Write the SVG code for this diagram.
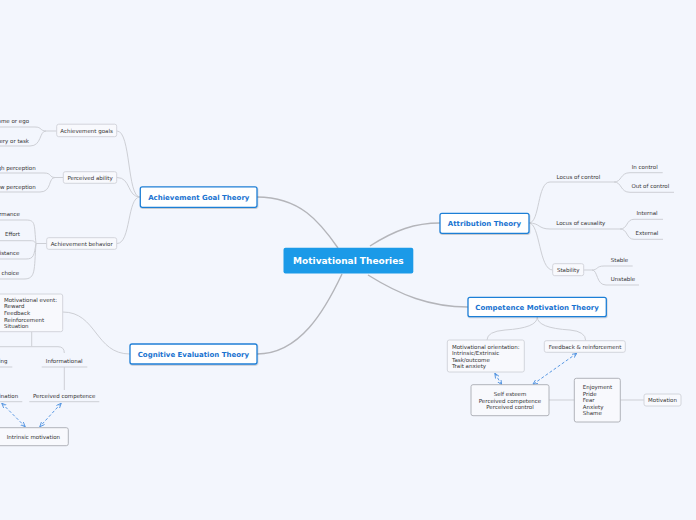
<svg xmlns="http://www.w3.org/2000/svg" width="696" height="520" viewBox="0 0 696 520">
<defs>
<style>
.bg{fill:#f3f6fd}
.main{fill:#ffffff;stroke:#1f7fd6;stroke-width:1.3}
.root{fill:#1b9ae8}
.sub{fill:#f8f9fd;stroke:#cfd1d8;stroke-width:0.9}
.sub2{fill:#f8f9fd;stroke:#a9abb2;stroke-width:0.9}
.c1{fill:none;stroke:#b4b5ba;stroke-width:1.4}
.c2{fill:none;stroke:#cdcfd5;stroke-width:1}
.dash{fill:none;stroke:#4a8fe0;stroke-width:0.9;stroke-dasharray:3 2;marker-start:url(#ah);marker-end:url(#ah)}
text{font-family:"DejaVu Sans","Liberation Sans",sans-serif}
.tr{font-size:9px;font-weight:bold;fill:#ffffff;text-anchor:middle}
.tm{font-size:7px;font-weight:bold;fill:#1a73d0;text-anchor:middle}
.t{font-size:5.5px;fill:#333333}
.tc{font-size:5.5px;fill:#333333;text-anchor:middle}
.te{font-size:5.5px;fill:#333333;text-anchor:end}
</style>
<marker id="ah" viewBox="0 0 6 6" refX="5.5" refY="3" markerWidth="5" markerHeight="5" markerUnits="userSpaceOnUse" orient="auto-start-reverse">
<path d="M0,0.5 L6,3 L0,5.5" fill="none" stroke="#4a8fe0" stroke-width="1"/>
</marker>
<filter id="sh" x="-10%" y="-20%" width="120%" height="150%">
<feDropShadow dx="0.5" dy="1" stdDeviation="0.6" flood-color="#000" flood-opacity="0.18"/>
</filter>
</defs>
<rect class="bg" x="0" y="0" width="696" height="520"/>

<g id="connectors">
<path class="c1" d="M257,197 C300,197 320,222 338,248"/>
<path class="c1" d="M342,274 C325,310 300,354 257,354"/>
<path class="c1" d="M370,246 C395,230 415,223 440,223"/>
<path class="c1" d="M368,275 C400,295 430,307 468,307"/>

<path class="c2" d="M140,197 C127,197 131,131 117,131"/>
<path class="c2" d="M140,197 C127,197 131,177.5 117,177.5"/>
<path class="c2" d="M140,197 C127,197 131,243.5 117,243.5"/>

<path class="c2" d="M56.7,131 L46,131 C40,131 42,127 35,127 L-30,127"/>
<path class="c2" d="M46,131 C39,131 42,146 30,146 L-30,146"/>
<path class="c2" d="M63.3,177.5 L55,177.5 C49,177.5 52,173 44,173 L-30,173"/>
<path class="c2" d="M55,177.5 C48,177.5 52,192 40,192 L-30,192"/>
<path class="c2" d="M46.7,243.5 L36,243.5"/>
<path class="c2" d="M36,243.5 C34,225 36,220 26,220 L-30,220"/>
<path class="c2" d="M36,243.5 C34,241 34,240.7 30,240.7 L-30,240.7"/>
<path class="c2" d="M36,243.5 C34,255 34,259 26,259 L-30,259"/>
<path class="c2" d="M36,243.5 C34,270 36,279 24,279 L-30,279"/>

<path class="c2" d="M130,354 C95,354 97,312 62.7,312"/>
<path class="c2" d="M31.7,331.7 L31.7,346.7"/>
<path class="c2" d="M31.7,346.7 L58,346.7 Q64.3,346.7 64.3,353"/>
<path class="c2" d="M31.7,346.7 L-10,346.7"/>
<path class="c2" d="M41.7,367 L87.3,367"/>
<path class="c2" d="M64.3,367 L64.3,390"/>
<path class="c2" d="M29.3,401.7 L99.3,401.7"/>
<path class="c2" d="M-30,367 L12.3,367"/>
<path class="c2" d="M-30,401.7 L22.3,401.7"/>

<path class="c2" d="M529,223 C540,223 537,182 550,182 L614,182"/>
<path class="c2" d="M529,223 C540,223 538,229 550,229 L620,229"/>
<path class="c2" d="M529,223 C540,223 539,270 552.7,270"/>
<path class="c2" d="M614,182 C622,182 620,172.7 630,172.7 L662.7,172.7"/>
<path class="c2" d="M614,182 C622,182 620,192.3 630,192.3 L674,192.3"/>
<path class="c2" d="M620,229 C628,229 626,219.3 634,219.3 L663,219.3"/>
<path class="c2" d="M620,229 C628,229 626,239.3 634,239.3 L663,239.3"/>
<path class="c2" d="M583.7,270 L592,270 C598,270 596,266 604,266 L632.7,266"/>
<path class="c2" d="M592,270 C598,270 596,285 606,285 L639,285"/>

<path class="c2" d="M537.3,317 Q537.3,328 505,330 Q487,331.5 487,340"/>
<path class="c2" d="M537.3,317 Q537.3,328 570,330 Q585.7,331.5 585.7,340.7"/>
<path class="c2" d="M549,400 L574.3,400"/>
<path class="c2" d="M620.3,400 L644,400"/>

<path class="dash" d="M61,403.5 L40,426.5"/>
<path class="dash" d="M2,403.5 L25,426.5"/>
<path class="dash" d="M495,373.5 L501.5,384.5"/>
<path class="dash" d="M576.5,353.5 L533,384.3"/>
</g>

<g id="root">
<rect class="root" x="283.5" y="247.8" width="129.8" height="25.8" rx="2"/>
<text class="tr" x="348.4" y="264.3">Motivational Theories</text>
</g>

<g id="achievement-goal-theory">
<rect class="main" x="140.3" y="186.8" width="116.7" height="20.5" rx="2" filter="url(#sh)"/>
<text class="tm" x="198.8" y="199.8">Achievement Goal Theory</text>
</g>
<g id="achievement-goals">
<rect class="sub" x="56.7" y="124.2" width="60" height="12.5" rx="2"/>
<text class="tc" x="86.6" y="133">Achievement goals</text>
</g>
<g id="outcome-ego"><text class="te" x="29" y="123">Outcome or ego</text></g>
<g id="mastery-task"><text class="te" x="29" y="143">Mastery or task</text></g>
<g id="perceived-ability">
<rect class="sub" x="63.3" y="171.7" width="53.4" height="11.6" rx="2"/>
<text class="tc" x="90.1" y="180.3">Perceived ability</text>
</g>
<g id="high-perception"><text class="te" x="35.7" y="169.7">High perception</text></g>
<g id="low-perception"><text class="te" x="35.7" y="188.7">Low perception</text></g>
<g id="achievement-behavior">
<rect class="sub" x="46.7" y="237.7" width="70" height="11.6" rx="2"/>
<text class="tc" x="81.7" y="245.7">Achievement behavior</text>
</g>
<g id="performance"><text class="te" x="20" y="216">Performance</text></g>
<g id="effort"><text class="te" x="20" y="236">Effort</text></g>
<g id="persistance"><text class="te" x="19.5" y="254.7">Persistance</text></g>
<g id="task-choice"><text class="te" x="19.2" y="274.7">Task choice</text></g>

<g id="cognitive-evaluation-theory">
<rect class="main" x="130" y="344" width="127" height="20" rx="2" filter="url(#sh)"/>
<text class="tm" x="193.4" y="356.8">Cognitive Evaluation Theory</text>
</g>
<g id="motivational-event">
<rect class="sub" x="-2" y="294" width="64.7" height="37.7" rx="2"/>
<text class="t" x="4" y="301.7">Motivational event:</text>
<text class="t" x="4" y="308.3">Reward</text>
<text class="t" x="4" y="314.9">Feedback</text>
<text class="t" x="4" y="321.5">Reinforcement</text>
<text class="t" x="4" y="328.1">Situation</text>
</g>
<g id="controlling"><text class="te" x="7.6" y="363">Controlling</text></g>
<g id="informational"><text class="tc" x="64.2" y="363">Informational</text></g>
<g id="self-determination"><text class="te" x="18.2" y="398">Self-determination</text></g>
<g id="perceived-competence"><text class="tc" x="64.2" y="398">Perceived competence</text></g>
<g id="intrinsic-motivation">
<rect class="sub2" x="-2" y="427.7" width="70.3" height="18" rx="2"/>
<text class="tc" x="33.4" y="439.3">Intrinsic motivation</text>
</g>

<g id="attribution-theory">
<rect class="main" x="440" y="213.3" width="89" height="20" rx="2" filter="url(#sh)"/>
<text class="tm" x="484.5" y="226.2">Attribution Theory</text>
</g>
<g id="locus-of-control"><text class="tc" x="578.4" y="179">Locus of control</text></g>
<g id="in-control"><text class="tc" x="644.7" y="168.7">In control</text></g>
<g id="out-of-control"><text class="tc" x="650.3" y="188">Out of control</text></g>
<g id="locus-of-causality"><text class="tc" x="580.8" y="225">Locus of causality</text></g>
<g id="internal"><text class="tc" x="647" y="214.7">Internal</text></g>
<g id="external"><text class="tc" x="647" y="235">External</text></g>
<g id="stability">
<rect class="sub" x="552.7" y="263.7" width="31" height="12" rx="2"/>
<text class="tc" x="568.2" y="272">Stability</text>
</g>
<g id="stable"><text class="tc" x="619.5" y="262">Stable</text></g>
<g id="unstable"><text class="tc" x="623" y="281">Unstable</text></g>

<g id="competence-motivation-theory">
<rect class="main" x="468" y="297.3" width="138.3" height="19.4" rx="2" filter="url(#sh)"/>
<text class="tm" x="537.1" y="309.8">Competence Motivation Theory</text>
</g>
<g id="motivational-orientation">
<rect class="sub" x="447.3" y="340" width="77" height="32" rx="2"/>
<text class="t" x="452" y="349">Motivational orientation:</text>
<text class="t" x="452" y="355.4">Intrinsic/Extrinsic</text>
<text class="t" x="452" y="361.8">Task/outcome</text>
<text class="t" x="452" y="368.2">Trait anxiety</text>
</g>
<g id="feedback-reinforcement">
<rect class="sub" x="544.3" y="340.7" width="81" height="11.6" rx="2"/>
<text class="tc" x="585" y="349">Feedback &amp; reinforcement</text>
</g>
<g id="self-esteem">
<rect class="sub2" x="471" y="384.7" width="78" height="31" rx="2"/>
<text class="tc" x="510" y="396">Self esteem</text>
<text class="tc" x="510" y="402.5">Perceived competence</text>
<text class="tc" x="510" y="409">Perceived control</text>
</g>
<g id="emotions">
<rect class="sub2" x="574.3" y="378.3" width="46" height="43.7" rx="2"/>
<text class="t" x="582.7" y="389">Enjoyment</text>
<text class="t" x="582.7" y="395.5">Pride</text>
<text class="t" x="582.7" y="402">Fear</text>
<text class="t" x="582.7" y="408.5">Anxiety</text>
<text class="t" x="582.7" y="415">Shame</text>
</g>
<g id="motivation">
<rect class="sub" x="644" y="394" width="37" height="12" rx="2"/>
<text class="tc" x="662.5" y="402">Motivation</text>
</g>
</svg>
